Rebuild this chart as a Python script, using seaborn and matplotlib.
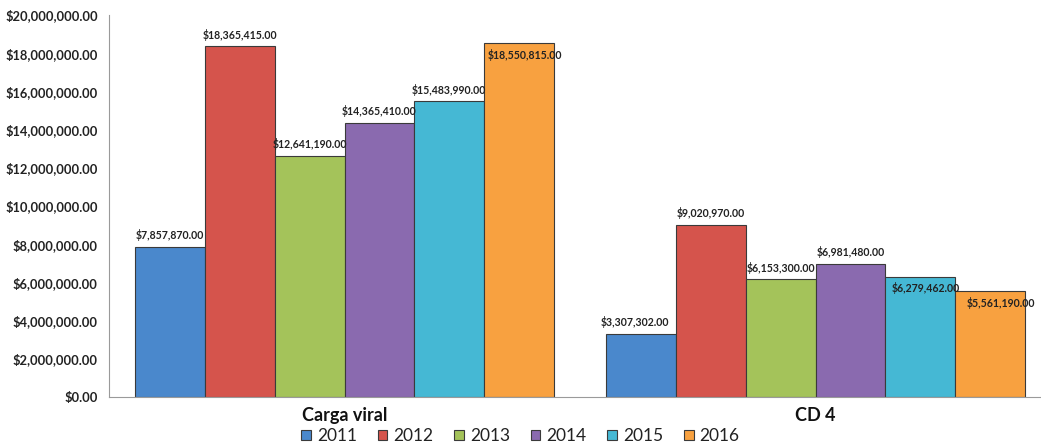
import matplotlib
matplotlib.use("Agg")
import matplotlib.pyplot as plt
import seaborn as sns
import pandas as pd
from matplotlib.ticker import FuncFormatter

# Spending per test type and year
categories = ["Carga viral", "CD 4"]
years = ["2011", "2012", "2013", "2014", "2015", "2016"]
carga_viral = [7857870.00, 18365415.00, 12641190.00, 14365410.00, 15483990.00, 18550815.00]
cd4 = [3307302.00, 9020970.00, 6153300.00, 6981480.00, 6279462.00, 5561190.00]
palette = ["#4a88cc", "#d5544c", "#a4c35a", "#8a6aaf", "#45b8d4", "#f8a140"]

rows = []
for cat, vals in zip(categories, [carga_viral, cd4]):
    for yr, v in zip(years, vals):
        rows.append({"categoria": cat, "anio": yr, "monto": v})
df = pd.DataFrame(rows)

sns.set_style("white")
plt.rcParams["font.family"] = ["Lato", "DejaVu Sans"]

fig = plt.figure(figsize=(10.41, 4.45), dpi=100)
ax = fig.add_axes([109 / 1041, 48 / 445, 942 / 1041, 382 / 445])

sns.barplot(data=df, x="categoria", y="monto", hue="anio", palette=palette,
            width=0.89, gap=0, ax=ax, edgecolor="#3a3a3a", linewidth=0.8,
            saturation=1, legend=True)

ax.set_ylim(0, 20000000)
ax.set_xlim(-0.5, 1.5)
ax.yaxis.set_major_formatter(FuncFormatter(lambda v, p: f"${v:,.2f}"))
ax.set_yticks(range(0, 20000001, 2000000))
for lbl in ax.get_yticklabels():
    lbl.set_fontweight("bold")
    lbl.set_fontsize(9.3)
    lbl.set_color("#222222")
ax.tick_params(axis="y", length=0, pad=8)
ax.tick_params(axis="x", length=0, pad=7)
for lbl in ax.get_xticklabels():
    lbl.set_fontweight("bold")
    lbl.set_fontsize(13)
    lbl.set_color("#111111")
ax.set_xlabel("")
ax.set_ylabel("")

for side in ["top", "right"]:
    ax.spines[side].set_visible(False)
ax.spines["left"].set_color("#9a9a9a")
ax.spines["bottom"].set_color("#9a9a9a")

# Value labels: (dx, dy) offsets in points for each year within each category
offsets = {
    "Carga viral": [(0, 4), (0, 4), (0, 4), (0, 4), (0, 4), (4, -13)],
    "CD 4": [(-4, 4), (0, 4), (0, 4), (0, 4), (4, -12), (8, -13)],
}
for i, container in enumerate(ax.containers):
    for j, bar in enumerate(container):
        cat = categories[j]
        val = bar.get_height()
        dx, dy = offsets[cat][i]
        ax.annotate(f"${val:,.2f}", (bar.get_x() + bar.get_width() / 2, val),
                    xytext=(dx, dy), textcoords="offset points",
                    ha="center", va="bottom", fontsize=7.6,
                    fontweight="bold", color="#222222")

leg = ax.get_legend()
handles, labels = ax.get_legend_handles_labels()
leg.remove()
fig.legend(handles, labels, loc="center", bbox_to_anchor=(0.5, 9 / 445),
           ncol=6, frameon=False, fontsize=12.5, handlelength=0.55,
           handleheight=0.55, handletextpad=0.35, columnspacing=1.2,
           labelcolor="#222222")

fig.savefig("out.png", dpi=100)
